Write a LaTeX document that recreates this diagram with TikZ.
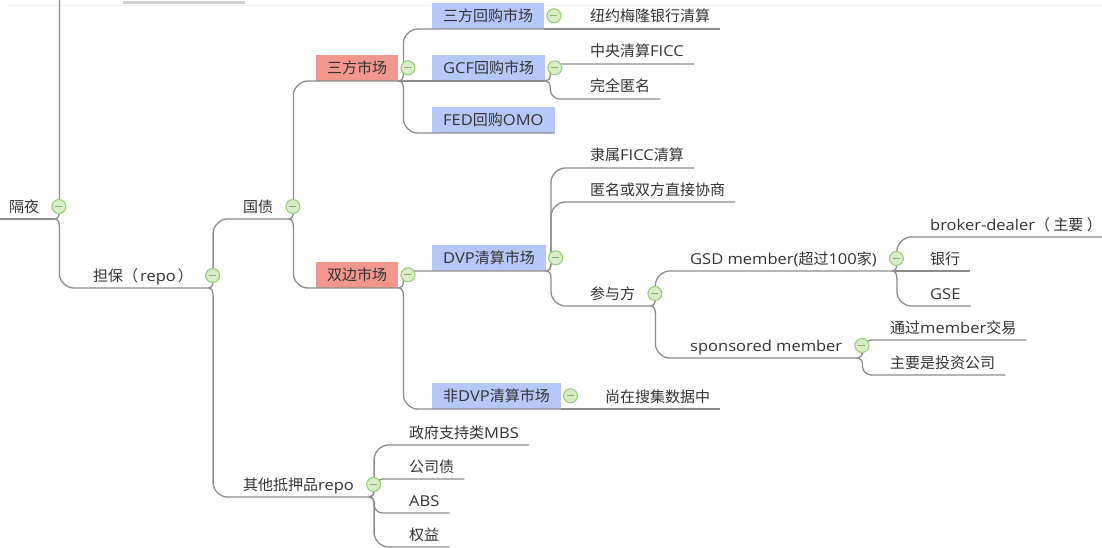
\documentclass[tikz,border=0pt]{standalone}
\usepackage{fontspec}
\setmainfont{Noto Sans CJK SC}
\newfontfamily\enfont[FakeStretch=1.1]{Open Sans}
\newcommand\en[1]{{\enfont #1}}
\usepackage{tikz}
\usetikzlibrary{calc, positioning}

\definecolor{linegray}{HTML}{8C8C8C}
\definecolor{textgray}{HTML}{333333}
\definecolor{redbox}{HTML}{F2968E}
\definecolor{bluebox}{HTML}{B5C8F8}
\definecolor{foldfill}{HTML}{D6EDC6}
\definecolor{folddraw}{HTML}{9CCC80}
\definecolor{foldbar}{HTML}{86B171}

\tikzset{
  every node/.style={text=textgray, font=\fontsize{15}{18}\selectfont},
  topic/.style={anchor=south west, inner xsep=15pt, inner ysep=3.8pt, text height=12pt, text depth=3pt},
  leaf/.style={topic, inner xsep=10pt},
  redtopic/.style={anchor=south west, fill=redbox, inner xsep=11pt, inner ysep=0pt, minimum height=26pt, text height=14.4pt, text depth=3pt},
  bluetopic/.style={redtopic, fill=bluebox},
  fold/.style={circle, draw=folddraw, fill=foldfill, line width=1.1pt, minimum size=14pt, inner sep=0pt,
    path picture={\draw[foldbar, line width=1.2pt] ([xshift=-3.5pt]path picture bounding box.center) -- ([xshift=3.5pt]path picture bounding box.center);}},
  link/.style={draw=linegray, line width=1.3pt},
  branch/.style={to path={
    let \p1=(\tikztostart), \p2=(\tikztotarget),
        \n1={ifthenelse(\y2>\y1,1,-1)},
        \n2={min(14,0.5*abs(\y2-\y1))},
        \n3={min(8,0.4*abs(\y2-\y1))}
    in .. controls ({\x1+3pt},\y1) and ({\x1+5pt},{\y1+(\n1)*2pt})
       .. ({\x1+5pt},{\y1+(\n1)*(\n3)*1pt})
       -- ({\x1+5pt},{\y2-(\n1)*(\n2)*1pt})
       .. controls ({\x1+5pt},{\y2-(\n1)*(\n2)*0.45pt}) and ({\x1+5pt+(\n2)*0.55pt},\y2)
       .. ({\x1+5pt+(\n2)*1pt},\y2)
       -- (\tikztotarget)}}
}

\begin{document}
\begin{tikzpicture}[x=1pt, y=-1pt]
\useasboundingbox (0,0) rectangle (1102,548);
% top edge
\draw[color=black!6, line width=1pt] (8,6) -- (1102,6);
\draw[color=black!18, line width=3pt] (123,3) -- (245,3);

% topics
\node[topic] (geye) at (-6,219) {隔夜};
\node[topic] (danbao) at (78,288) {担保（\hspace{2pt}\en{repo}\hspace{2pt}）};
\node[topic] (guozhai) at (228,219) {国债};
\node[topic] (qita) at (228,497) {其他抵押品\en{repo}};
\node[redtopic] (sanfang) at (316,81) {三方市场};
\node[redtopic] (shuangbian) at (316,288) {双边市场};
\node[bluetopic] (sfhg) at (432,29) {三方回购市场};
\node[bluetopic] (gcf) at (432,81) {\en{GCF}回购市场};
\node[bluetopic] (fed) at (432,133) {\en{FED}回购\en{OMO}};
\node[bluetopic] (dvp) at (432,271) {\en{DVP}清算市场};
\node[bluetopic] (feidvp) at (432,409) {非\en{DVP}清算市场};
\node[leaf] (nyml) at (580,29) {纽约梅隆银行清算};
\node[leaf] (ficc) at (580,64) {中央清算\en{FICC}};
\node[leaf] (niming) at (580,99) {完全匿名};
\node[leaf] (lishu) at (580,168) {隶属\en{FICC}清算};
\node[leaf] (xieshang) at (580,202) {匿名或双方直接协商};
\node[topic] (canyu) at (575,306) {参与方};
\node[topic] (gsd) at (675,271) {\en{GSD member(}超过\en{100}家\en{)}};
\node[topic] (sponsor) at (675,358) {\en{sponsored member}};
\node[leaf] (broker) at (920,237) {\en{broker-dealer}（ 主要 ）};
\node[leaf] (yinhang) at (920,271) {银行};
\node[leaf] (gse) at (920,306) {\en{GSE}};
\node[leaf] (tongguo) at (880,340) {通过\en{member}交易};
\node[leaf] (touzi) at (880,375) {主要是投资公司};
\node[leaf] (shangzai) at (595,409) {尚在搜集数据中};
\node[leaf] (mbs) at (399,445) {政府支持类\en{MBS}};
\node[leaf] (gsz) at (399,479) {公司债};
\node[leaf] (abs) at (399,513) {\en{ABS}};
\node[leaf] (quanyi) at (399,547) {权益};
\coordinate (up) at (80,-60);

% links
\draw[link] (geye.south west) -- (geye.south east);
\draw[link] (geye.south east) to[branch] (up);
\draw[link] (geye.south east) to[branch] (danbao.south west) -- (danbao.south east);
\draw[link] (danbao.south east) to[branch] (guozhai.south west) -- (guozhai.south east);
\draw[link] (danbao.south east) to[branch] (qita.south west) -- (qita.south east);
\draw[link] (guozhai.south east) to[branch] (sanfang.south west) -- (sanfang.south east);
\draw[link] (guozhai.south east) to[branch] (shuangbian.south west) -- (shuangbian.south east);
\draw[link] (sanfang.south east) to[branch] (sfhg.south west) -- (sfhg.south east);
\draw[link] (sanfang.south east) -- (gcf.south east);
\draw[link] (sanfang.south east) to[branch] (fed.south west) -- (fed.south east);
\draw[link] (sfhg.south east) -- (nyml.south east);
\draw[link] (gcf.south east) to[branch] (ficc.south west) -- (ficc.south east);
\draw[link] (gcf.south east) to[branch] (niming.south west) -- (niming.south east);
\draw[link] (shuangbian.south east) to[branch] (dvp.south west) -- (dvp.south east);
\draw[link] (shuangbian.south east) to[branch] (feidvp.south west) -- (feidvp.south east);
\draw[link] (feidvp.south east) -- (shangzai.south east);
\draw[link] (dvp.south east) to[branch] (lishu.south west) -- (lishu.south east);
\draw[link] (dvp.south east) to[branch] (xieshang.south west) -- (xieshang.south east);
\draw[link] (dvp.south east) to[branch] (canyu.south west) -- (canyu.south east);
\draw[link] (canyu.south east) to[branch] (gsd.south west) -- (gsd.south east);
\draw[link] (canyu.south east) to[branch] (sponsor.south west) -- (sponsor.south east);
\draw[link] (gsd.south east) to[branch] (broker.south west) -- (broker.south east);
\draw[link] (gsd.south east) -- (yinhang.south east);
\draw[link] (gsd.south east) to[branch] (gse.south west) -- (gse.south east);
\draw[link] (sponsor.south east) to[branch] (tongguo.south west) -- (tongguo.south east);
\draw[link] (sponsor.south east) to[branch] (touzi.south west) -- (touzi.south east);
\draw[link] (qita.south east) to[branch] (mbs.south west) -- (mbs.south east);
\draw[link] (qita.south east) to[branch] (gsz.south west) -- (gsz.south east);
\draw[link] (qita.south east) to[branch] (abs.south west) -- (abs.south east);
\draw[link] (qita.south east) to[branch] (quanyi.south west) -- (quanyi.south east);

% fold buttons
\node[fold, xshift=4.5pt, yshift=12.5pt] at (geye.south east) {};
\node[fold, xshift=4.5pt, yshift=12.5pt] at (danbao.south east) {};
\node[fold, xshift=4.5pt, yshift=12.5pt] at (guozhai.south east) {};
\node[fold, xshift=4.5pt, yshift=12.5pt] at (qita.south east) {};
\node[fold, xshift=4.5pt, yshift=12.5pt] at (canyu.south east) {};
\node[fold, xshift=4.5pt, yshift=12.5pt] at (gsd.south east) {};
\node[fold, xshift=4.5pt, yshift=12.5pt] at (sponsor.south east) {};
\node[fold, right=2pt of sanfang] {};
\node[fold, right=2pt of shuangbian] {};
\node[fold, right=2pt of sfhg] {};
\node[fold, right=2pt of gcf] {};
\node[fold, right=2pt of dvp] {};
\node[fold, right=2pt of feidvp] {};
\end{tikzpicture}
\end{document}
